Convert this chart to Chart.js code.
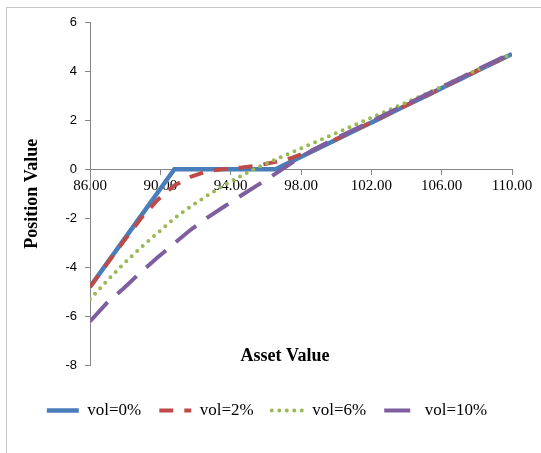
<!DOCTYPE html>
<html lang="en">
<head>
<meta charset="UTF-8">
<title>Position Value vs Asset Value</title>
<script src="https://cdn.jsdelivr.net/npm/chart.js"></script>
<style>
  html, body { margin: 0; padding: 0; background: #fff; overflow: hidden; }
  .frame { position: absolute; left: 6px; top: 7px; width: 600px; height: 500px; border: 1px solid #c8c8c8; }
  .wrap { position: absolute; left: 0; top: 0; width: 541px; height: 453px; }
</style>
</head>
<body>
<div class="frame"></div>
<div class="wrap"><canvas id="chart" width="541" height="453"></canvas></div>
<script>
// asset values (x) shared by all series
const assetValues = [86.00, 86.96, 87.92, 88.88, 89.84, 90.80, 91.76, 92.72, 93.68, 94.64,
                     95.60, 96.56, 97.52, 98.48, 99.44, 100.40, 101.36, 102.32, 103.28, 104.24,
                     105.20, 106.16, 107.12, 108.08, 109.04, 110.00];

const vol0  = [-4.80, -3.84, -2.88, -1.92, -0.96, 0.00, 0.00, 0.00, 0.00, 0.00,
               0.00, 0.00, 0.34, 0.67, 1.01, 1.34, 1.68, 2.01, 2.35, 2.69,
               3.02, 3.36, 3.69, 4.03, 4.36, 4.70];
const vol2  = [-4.80, -3.86, -2.93, -2.02, -1.25, -0.66, -0.30, -0.07, 0.01, 0.07,
               0.16, 0.30, 0.47, 0.73, 1.04, 1.36, 1.69, 2.03, 2.36, 2.70,
               3.03, 3.37, 3.70, 4.04, 4.37, 4.71];
const vol6  = [-5.30, -4.55, -3.85, -3.20, -2.60, -2.00, -1.50, -1.05, -0.63, -0.25,
               0.10, 0.40, 0.70, 1.00, 1.30, 1.60, 1.90, 2.20, 2.50, 2.80,
               3.10, 3.42, 3.75, 4.06, 4.40, 4.70];
const vol10 = [-6.20, -5.45, -4.85, -4.20, -3.60, -3.02, -2.45, -1.95, -1.50, -1.05,
               -0.62, -0.18, 0.28, 0.70, 1.07, 1.40, 1.73, 2.06, 2.40, 2.73,
               3.07, 3.41, 3.74, 4.08, 4.41, 4.75];

const seriesNames = ['vol=0%', 'vol=2%', 'vol=6%', 'vol=10%'];
const yTicks = [-8, -6, -4, -2, 0, 2, 4, 6];
const xTicks = [86, 90, 94, 98, 102, 106, 110];

const toPoints = (ys) => assetValues.map((x, i) => ({ x: x, y: ys[i] }));

// "Asset Value" sits inside the plot, near the bottom, like the original
const assetTitle = {
  id: 'assetTitle',
  afterDraw(chart) {
    const { ctx, chartArea } = chart;
    ctx.save();
    ctx.font = 'bold 18px "Liberation Serif", "Times New Roman", serif';
    ctx.fillStyle = '#000';
    ctx.textAlign = 'center';
    ctx.textBaseline = 'middle';
    ctx.fillText('Asset Value', (chartArea.left + chartArea.right) / 2 - 16, chartArea.bottom - 9);
    ctx.restore();
  }
};

const serif = '"Liberation Serif", "Times New Roman", serif';

// legend swatches should keep each series' dash pattern
function legendLabels(chart) {
  const items = Chart.defaults.plugins.legend.labels.generateLabels(chart);
  items.forEach((item) => {
    const ds = chart.data.datasets[item.datasetIndex];
    item.lineDash = ds.borderDash || [];
    item.lineWidth = ds.borderWidth;
    item.lineCap = ds.borderCapStyle || 'butt';
    item.strokeStyle = ds.borderColor;
  });
  return items.sort((a, b) => a.datasetIndex - b.datasetIndex);
}

new Chart(document.getElementById('chart'), {
  type: 'line',
  data: {
    datasets: [
      { label: seriesNames[0], data: toPoints(vol0), borderColor: '#4A7EBB', backgroundColor: '#4A7EBB',
        borderWidth: 4.5, order: 4 },
      { label: seriesNames[1], data: toPoints(vol2), borderColor: '#BE4B48', backgroundColor: '#BE4B48',
        borderWidth: 4, borderDash: [14, 11], order: 3 },
      { label: seriesNames[2], data: toPoints(vol6), borderColor: '#98B954', backgroundColor: '#98B954',
        borderWidth: 4, borderDash: [0, 7.5], borderCapStyle: 'round', order: 2 },
      { label: seriesNames[3], data: toPoints(vol10), borderColor: '#7D5FA0', backgroundColor: '#7D5FA0',
        borderWidth: 4, borderDash: [26, 13], order: 1 }
    ]
  },
  options: {
    responsive: false,
    animation: false,
    layout: { padding: { left: 22, top: 22, right: 29, bottom: 24 } },
    elements: { point: { radius: 0 }, line: { tension: 0 } },
    scales: {
      x: {
        type: 'linear',
        min: 86, max: 110,
        position: { y: 0 },
        afterBuildTicks: (scale) => { scale.ticks = xTicks.map(v => ({ value: v })); },
        ticks: {
          padding: 3,
          color: '#000',
          font: { family: serif, size: 15 },
          callback: (v) => Number(v).toFixed(2)
        },
        grid: { drawOnChartArea: false, drawTicks: true, tickLength: 5, color: '#868686' },
        border: { color: '#868686', width: 1 }
      },
      y: {
        min: -8, max: 6,
        afterBuildTicks: (scale) => { scale.ticks = yTicks.map(v => ({ value: v })); },
        afterFit: (scale) => { scale.width = 68; },
        ticks: {
          padding: 8,
          color: '#000',
          font: { family: '"Liberation Sans", Arial, sans-serif', size: 13 }
        },
        grid: { drawOnChartArea: false, drawTicks: true, tickLength: 5, color: '#868686' },
        border: { color: '#868686', width: 1 },
        title: {
          display: true,
          text: 'Position Value',
          color: '#000',
          padding: { top: 0, bottom: 0 },
          font: { family: serif, size: 18, weight: 'bold' }
        }
      }
    },
    plugins: {
      tooltip: { enabled: false },
      legend: {
        position: 'bottom',
        title: { display: true, text: ' ', padding: { top: 0, bottom: 6.5 }, font: { size: 10 } },
        labels: {
          usePointStyle: true,
          pointStyle: 'line',
          pointStyleWidth: 32,
          padding: 18,
          color: '#000',
          font: { family: serif, size: 17 },
          generateLabels: legendLabels
        }
      }
    }
  },
  plugins: [assetTitle]
});
</script>
</body>
</html>
